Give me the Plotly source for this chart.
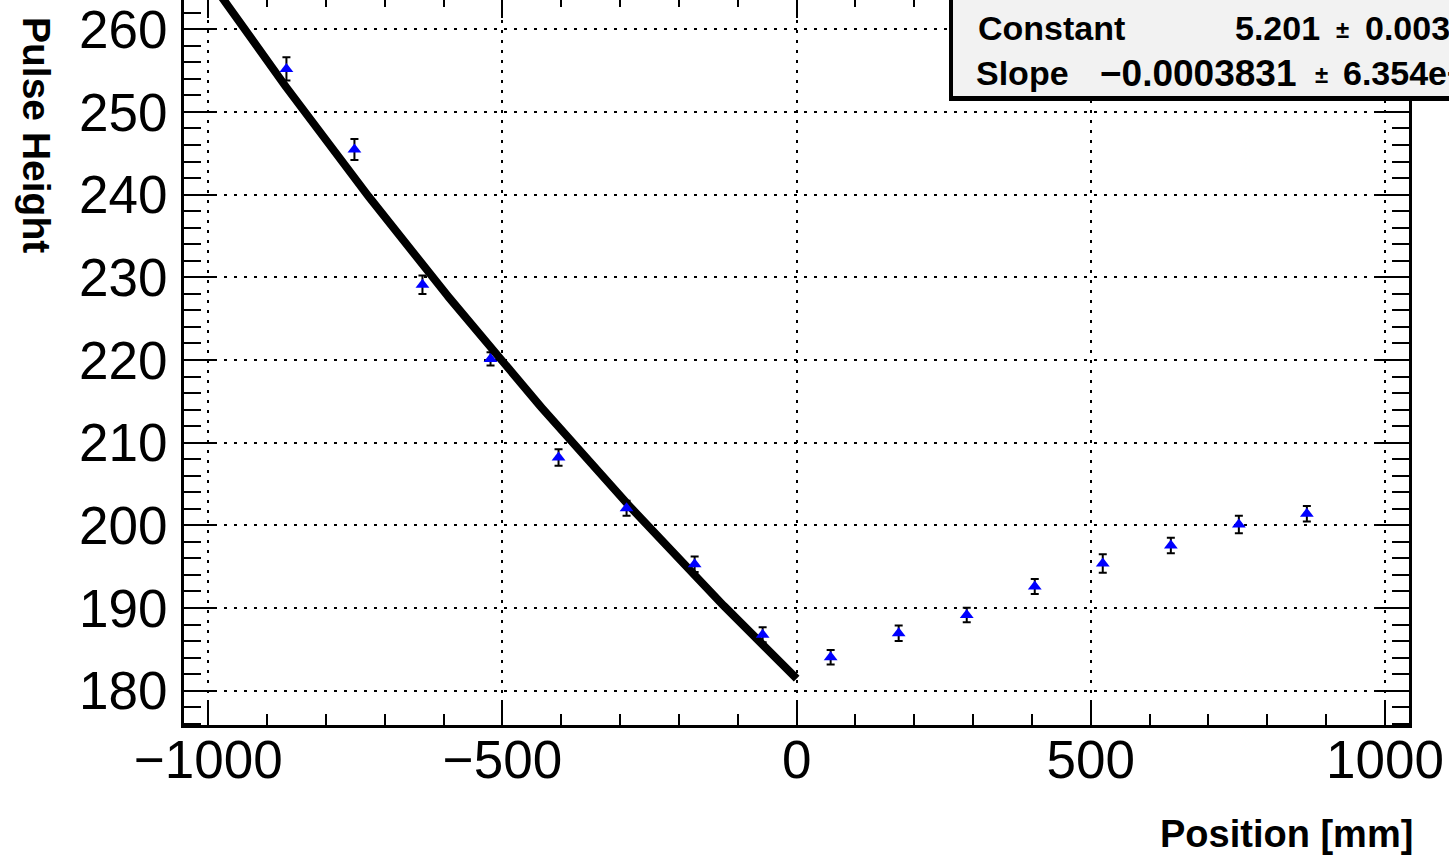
import numpy as np
import plotly.graph_objects as go

# Measured pulse height along the bar (bin centres in mm)
position_mm = [-867.2, -751.6, -636.0, -520.3, -404.7, -289.1, -173.4, -57.8,
               57.8, 173.4, 289.1, 404.7, 520.3, 636.0, 751.6, 867.2]
pulse_height = [255.20, 245.46, 229.10, 220.12, 208.21, 202.07, 195.29, 186.76,
                184.04, 186.94, 189.16, 192.60, 195.39, 197.56, 200.10, 201.40]
pulse_err = [1.41, 1.27, 1.11, 0.80, 0.99, 0.91, 0.93, 0.91,
             0.88, 0.93, 0.88, 0.91, 1.11, 0.94, 1.06, 0.94]

# Exponential fit  exp(Constant + Slope * x)  over the negative half
fit_constant = 5.201
fit_constant_err = "0.003"
fit_slope = -0.0003831
fit_slope_err = "6.354e\u221206"
fit_range = [-1000.0, 0.0]

x_ticks = [-1000, -500, 0, 500, 1000]
y_ticks = [180, 190, 200, 210, 220, 230, 240, 250, 260]
x_range = [-1041.3, 1040.8]
y_range = [175.85, 263.54]

FONT = "Liberation Sans, Arial, Helvetica, sans-serif"
W, H = 1449, 861
ML, MR, MT, MB = 184, 40, 0, 136
PW, PH = W - ML - MR, H - MT - MB


def px_x(px):
    return (px - ML) / PW


def px_y(py):
    return (H - MB - py) / PH


fit_x = np.linspace(fit_range[0], fit_range[1], 400)
fit_y = np.exp(fit_constant + fit_slope * fit_x)

fig = go.Figure()

fig.add_trace(go.Scatter(
    x=fit_x, y=fit_y, mode="lines",
    line=dict(color="black", width=8),
    showlegend=False, hoverinfo="skip",
))

fig.add_trace(go.Scatter(
    x=position_mm, y=pulse_height, mode="markers",
    marker=dict(symbol="triangle-up", color="#0000ff", size=12, line=dict(width=0)),
    error_y=dict(type="data", array=pulse_err, visible=True,
                 color="black", thickness=2, width=4),
    showlegend=False,
))

# carrier trace for the top tick axis
fig.add_trace(go.Scatter(x=[], y=[], xaxis="x2", yaxis="y", showlegend=False,
                         hoverinfo="skip"))

axis_common = dict(
    showline=True, linecolor="black", linewidth=3,
    ticks="inside", tickcolor="black", tickwidth=2,
    showgrid=True, gridcolor="black", gridwidth=2, griddash="3px,7px",
    zeroline=False, ticklabeloverflow="allow",
    tickfont=dict(family=FONT, size=53, color="black"),
)

fig.update_layout(
    width=W, height=H,
    margin=dict(l=ML, r=MR, t=MT, b=MB, pad=0),
    paper_bgcolor="white", plot_bgcolor="white",
    xaxis=dict(
        **axis_common,
        range=x_range, tickvals=x_ticks, ticklen=22, ticklabelstandoff=-14,
        minor=dict(dtick=100, tick0=0, ticks="inside", ticklen=11,
                   tickwidth=2, tickcolor="black", showgrid=False),
    ),
    xaxis2=dict(
        overlaying="x", side="top", matches="x", range=x_range,
        showline=False, showgrid=False, zeroline=False,
        tickvals=x_ticks, ticks="inside", ticklen=18, tickwidth=2,
        tickcolor="black", showticklabels=False,
        minor=dict(dtick=100, tick0=0, ticks="inside", ticklen=7,
                   tickwidth=2, tickcolor="black", showgrid=False),
    ),
    yaxis=dict(
        **axis_common,
        range=y_range, tickvals=y_ticks, ticklen=32, mirror="ticks",
        ticklabelstandoff=3,
        minor=dict(dtick=2, tick0=180, ticks="inside", ticklen=17,
                   tickwidth=2, tickcolor="black", showgrid=False),
    ),
)

# Fit statistics box (drop shadow + panel)
fig.add_shape(type="rect", xref="paper", yref="paper",
              x0=px_x(949), x1=px_x(1600), y0=px_y(101), y1=px_y(-20),
              fillcolor="black", line=dict(width=0), layer="above")
fig.add_shape(type="rect", xref="paper", yref="paper",
              x0=px_x(953), x1=px_x(1600), y0=px_y(96), y1=px_y(-20),
              fillcolor="#f2f2f2", line=dict(width=0), layer="above")

stat_font = dict(family=FONT, size=34, color="black", weight="bold")
slope_font = dict(family=FONT, size=37, color="black", weight="bold")
pm_font = dict(family=FONT, size=24, color="black", weight="bold")


def label(text, px, py, font, anchor="left", angle=0):
    fig.add_annotation(
        text=text, x=px_x(px), y=px_y(py), xref="paper", yref="paper",
        xanchor=anchor, yanchor="middle", showarrow=False,
        font=font, textangle=angle,
    )


slope_text = f"{fit_slope:.7f}".replace("-", "\u2212")

label("Constant", 976, 28, stat_font)
label(f"{fit_constant:.3f}", 1233, 28, stat_font)
label("\u00b1", 1334, 30, pm_font)
label(fit_constant_err, 1363, 28, stat_font)

label("Slope", 974, 73, stat_font)
label(slope_text, 1299, 73, slope_font, anchor="right")
label("\u00b1", 1313, 75, pm_font)
label(fit_slope_err, 1341, 73, stat_font)

# Axis titles
label("Pulse Height", 37, 135, dict(family=FONT, size=39, color="black", weight="bold"),
      anchor="center", angle=90)
label("Position [mm]", 1415, 834, dict(family=FONT, size=38, color="black", weight="bold"),
      anchor="right")

fig.write_html("out.html")
